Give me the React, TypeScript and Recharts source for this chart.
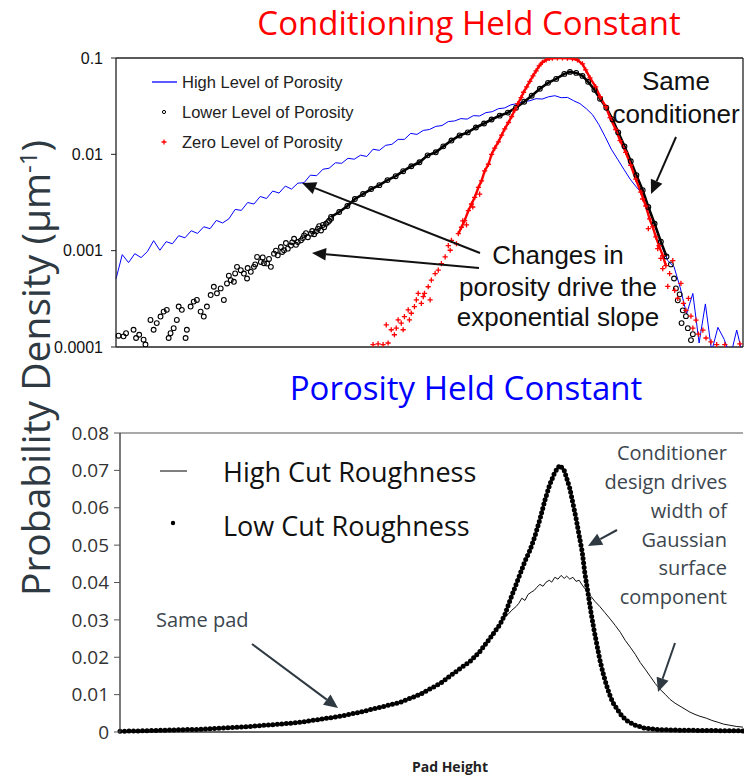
import React from 'react'
import { ComposedChart, Line, Scatter, XAxis, YAxis, ReferenceLine } from 'recharts'

// ---- top panel: conditioning held constant (log density vs pad height bin) ----

// blue trace, one value per height bin 0..100
const highPorosity = [
  0.00051, 0.00091, 0.000752, 0.000931, 0.000847, 0.000977, 0.00127, 0.00101, 0.00124, 0.00118,
  0.00143, 0.00136, 0.00161, 0.00151, 0.00177, 0.00169, 0.00206, 0.00194, 0.00214, 0.00268,
  0.00262, 0.00316, 0.00305, 0.00365, 0.00348, 0.00416, 0.00396, 0.00468, 0.00436, 0.00502,
  0.00508, 0.00608, 0.006, 0.007, 0.00718, 0.00817, 0.00807, 0.0091, 0.0089, 0.0098,
  0.0095, 0.0113, 0.011, 0.0124, 0.0127, 0.0143, 0.0143, 0.0165, 0.0161, 0.0177,
  0.0181, 0.0195, 0.0199, 0.0219, 0.0222, 0.0235, 0.0232, 0.0252, 0.025, 0.0271,
  0.0277, 0.0298, 0.0303, 0.0327, 0.0336, 0.0352, 0.036, 0.0378, 0.0375, 0.0396,
  0.0406, 0.0387, 0.039, 0.036, 0.0336, 0.0298, 0.0258, 0.0204, 0.0153, 0.0113,
  0.0089, 0.007, 0.00553, 0.00457, 0.00387, 0.00284, 0.00177, 0.00115, 0.00079, 0.00068,
  0.00041, 0.00022, 0.00036, 0.00011, 0.00028, 0.00009, 0.00016, 0.00012, 0.00008, 0.00015,
  0.00008,
]

// black open circles: scattered tails
const lowerPorositySpread: [number, number][] = [
  [0.4, 0.000131], [1.2, 0.000129], [1.6, 0.000139], [2.8, 0.000151], [3.2, 0.000124],
  [3.7, 0.000134], [4.4, 0.000119], [4.7, 0.000106], [5.5, 0.000191], [6.0, 0.000151],
  [6.5, 0.000177], [7.1, 0.000207], [7.6, 0.000233], [8.1, 0.000243], [8.4, 0.000124],
  [8.7, 0.000139], [9.2, 0.000157], [9.7, 0.000191], [10.0, 0.000263], [10.5, 0.000243],
  [11.1, 0.000124], [11.3, 0.000151], [11.9, 0.000263], [12.4, 0.000296], [12.9, 0.000308],
  [13.5, 0.000233], [14.0, 0.000207], [14.5, 0.000263], [15.1, 0.000346], [15.6, 0.000422],
  [16.1, 0.000361], [16.7, 0.000406], [17.2, 0.000308], [17.7, 0.000457], [18.0, 0.00055],
  [18.3, 0.000494], [18.8, 0.000475], [19.0, 0.00058], [19.3, 0.000679], [19.9, 0.000627],
  [20.4, 0.000579], [20.9, 0.000514], [21.0, 0.00066], [21.5, 0.000603], [22.0, 0.000679],
  [22.2, 0.00072], [22.5, 0.000861], [23.1, 0.000764], [23.4, 0.00085], [23.6, 0.00074],
  [24.1, 0.000735], [24.4, 0.00082], [24.7, 0.000679], [25.2, 0.000931], [25.5, 0.001],
  [25.8, 0.000895], [26.3, 0.00109], [26.5, 0.00097], [26.8, 0.00101], [27.1, 0.0012],
  [27.4, 0.00105], [27.9, 0.00113], [28.1, 0.00122], [28.4, 0.00133], [28.7, 0.00115],
  [29.0, 0.00123], [29.5, 0.00128], [29.8, 0.00135], [30.0, 0.00144], [30.3, 0.00152],
  [30.6, 0.00138], [31.1, 0.0015], [31.3, 0.0016], [31.6, 0.00148], [31.9, 0.00158],
  [32.2, 0.00169], [32.4, 0.0018], [32.7, 0.00162], [33.0, 0.00185], [33.2, 0.00175],
  [33.5, 0.0019], [33.8, 0.00198], [34.0, 0.00205], [34.3, 0.00214],
  [88.5, 0.00072], [89.0, 0.000514], [89.3, 0.000406], [89.6, 0.000305], [89.9, 0.000352],
  [90.2, 0.000177], [90.4, 0.00024], [90.9, 0.000209], [91.2, 0.000157], [91.7, 0.000118],
  [92.0, 0.000136],
]

// black open circles: dense band around the peak
const lowerPorosityBand: [number, number][] = [
  [34.3, 0.00224], [35.6, 0.00252], [36.9, 0.00291], [38.1, 0.00344], [39.4, 0.00387],
  [40.7, 0.00436], [42.0, 0.00479], [43.3, 0.0054], [44.6, 0.00593], [45.8, 0.00668],
  [47.1, 0.00752], [48.4, 0.00827], [49.7, 0.00976], [51.0, 0.0105], [52.2, 0.0121],
  [53.5, 0.0139], [54.8, 0.0157], [56.1, 0.0169], [57.4, 0.019], [58.7, 0.0209],
  [59.9, 0.023], [61.2, 0.0252], [62.5, 0.0271], [63.8, 0.0305], [65.1, 0.0352],
  [66.3, 0.0406], [67.6, 0.0479], [68.9, 0.0552], [70.2, 0.0607], [71.5, 0.0684],
  [72.4, 0.0717], [73.4, 0.07], [74.4, 0.0652], [75.3, 0.0566], [76.3, 0.0468],
  [77.2, 0.0378], [78.2, 0.0305], [79.2, 0.023], [80.1, 0.0169], [81.1, 0.0121],
  [82.1, 0.00847], [83.0, 0.00607], [84.0, 0.00425], [84.9, 0.00284], [85.9, 0.0019],
  [86.9, 0.00124], [87.8, 0.00087],
]

// red crosses: scattered tails
const zeroPorositySpread: [number, number][] = [
  [41.0, 0.000106], [41.8, 0.000108], [42.6, 0.000106], [43.4, 0.00011], [43.1, 0.00017],
  [43.9, 0.000151], [44.4, 0.000134], [44.7, 0.000157], [45.0, 0.000191], [45.5, 0.000177],
  [45.8, 0.000151], [46.0, 0.000207], [46.6, 0.000243], [46.8, 0.000191], [47.1, 0.000224],
  [47.6, 0.000263], [47.9, 0.000308], [48.2, 0.000361], [48.7, 0.000284], [49.0, 0.000333],
  [49.2, 0.000361], [49.8, 0.000422], [50.1, 0.000308], [50.3, 0.000494], [50.9, 0.000579],
  [51.4, 0.000627], [51.9, 0.000735], [52.5, 0.000861], [53.0, 0.00113], [53.3, 0.00101],
  [53.5, 0.00128], [54.3, 0.00118], [55.3, 0.00204], [55.9, 0.00185], [56.9, 0.00284],
  [58.0, 0.00387],
  [84.0, 0.00344], [84.9, 0.00169], [86.4, 0.00105], [86.9, 0.00083], [87.2, 0.00065],
  [88.0, 0.000426], [88.3, 0.000579], [88.8, 0.000789], [89.1, 0.000387], [89.6, 0.00032],
  [90.1, 0.000457], [90.5, 0.000284], [90.9, 0.00024], [91.3, 0.00032], [91.7, 0.000209],
  [92.0, 0.000157], [92.5, 0.00019], [92.9, 0.000136], [93.6, 0.00015], [94.1, 0.000124],
  [94.9, 0.000113], [95.8, 0.000106], [97.1, 0.000106], [99.5, 0.000108],
]

// red crosses: dense band around the peak
const zeroPorosityBand: [number, number][] = [
  [54.6, 0.0015], [55.1, 0.00175], [55.6, 0.00205], [56.2, 0.0026], [56.7, 0.00305],
  [57.2, 0.00357], [57.8, 0.00453], [58.3, 0.00531], [58.8, 0.00673], [59.4, 0.00789],
  [59.9, 0.01], [60.4, 0.0116], [61.0, 0.0135], [61.5, 0.0158], [62.0, 0.0184],
  [62.6, 0.0214], [63.1, 0.0247], [63.6, 0.0288], [64.1, 0.0336], [64.6, 0.0387],
  [65.0, 0.0441], [65.5, 0.0502], [66.0, 0.0573], [66.5, 0.0652], [67.0, 0.0735],
  [67.5, 0.0827], [68.0, 0.0899], [68.6, 0.0954], [69.1, 0.0988], [69.6, 0.0995],
  [70.4, 0.1], [71.2, 0.1], [72.0, 0.0995], [72.8, 0.0985], [73.6, 0.0954],
  [74.4, 0.0867], [74.9, 0.0752], [75.6, 0.0622], [76.5, 0.0502], [77.2, 0.0396],
  [78.1, 0.0313], [78.8, 0.0241], [79.7, 0.0181], [80.4, 0.0139], [81.3, 0.0105],
  [82.1, 0.0077], [82.9, 0.00553], [83.7, 0.00406], [84.5, 0.00291], [85.1, 0.00214],
  [85.6, 0.00177], [86.1, 0.00139], [86.6, 0.00113], [87.2, 0.00089], [87.7, 0.0007],
]

const logTicks = [0.0001, 0.001, 0.01, 0.1]

// ---- bottom panel: porosity held constant (linear density) ----

const highCutRoughness: [number, number][] = [
  [0, 0.0002], [6.4, 0.00045], [12.8, 0.0007], [19.3, 0.0013], [25.7, 0.002],
  [32.1, 0.0034], [38.5, 0.0053], [44.9, 0.0079], [51.4, 0.013], [56.2, 0.0189],
  [59.4, 0.0251], [61.0, 0.0288], [61.6, 0.0304], [62.3, 0.0315], [62.9, 0.0326],
  [63.6, 0.0336], [64.0, 0.0344], [64.5, 0.0358], [65.0, 0.0352], [65.5, 0.0368],
  [66.0, 0.0374], [66.5, 0.0379], [66.9, 0.0387], [67.4, 0.0395], [67.9, 0.039],
  [68.4, 0.0401], [68.9, 0.0406], [69.3, 0.0401], [69.8, 0.0414], [70.3, 0.0409],
  [70.8, 0.0419], [71.3, 0.0411], [71.7, 0.0417], [72.2, 0.0409], [72.7, 0.0414],
  [73.2, 0.0403], [73.7, 0.0406], [74.2, 0.0393], [74.6, 0.0384], [75.1, 0.0374],
  [75.6, 0.0363], [76.2, 0.035], [77.0, 0.0336], [77.8, 0.032], [78.7, 0.0302],
  [79.5, 0.0285], [80.3, 0.0267], [81.1, 0.0245], [81.9, 0.0227], [82.7, 0.0208],
  [83.5, 0.0186], [84.3, 0.0168], [85.1, 0.0149], [85.9, 0.013], [86.7, 0.0114],
  [87.5, 0.0101], [88.3, 0.0087], [89.1, 0.0077], [89.9, 0.0069], [90.7, 0.0061],
  [91.5, 0.0053], [92.3, 0.0047], [93.1, 0.0042], [94.1, 0.0037], [95.0, 0.0031],
  [96.0, 0.0026], [96.9, 0.0021], [97.9, 0.0018], [98.9, 0.0015], [100, 0.0013],
]

const lowCutRoughness: [number, number][] = [
  [0, 0.0002], [3.2, 0.0003], [6.4, 0.00045], [9.6, 0.0006], [12.8, 0.0007],
  [16.1, 0.001], [19.3, 0.0013], [22.5, 0.0017], [25.7, 0.0021], [28.9, 0.0026],
  [32.1, 0.0034], [35.3, 0.0042], [38.5, 0.0053], [41.7, 0.0066], [44.9, 0.0079],
  [48.2, 0.0101], [51.4, 0.013], [54.6, 0.017], [56.2, 0.0189], [57.8, 0.0216],
  [59.4, 0.0251], [61.0, 0.0288], [61.8, 0.0315], [62.6, 0.0352], [63.4, 0.0387],
  [64.2, 0.0422], [65.0, 0.0457], [65.8, 0.0486], [66.6, 0.0524], [67.4, 0.0569],
  [68.2, 0.062], [69.0, 0.0663], [69.8, 0.0695], [70.6, 0.0714], [71.3, 0.07],
  [71.7, 0.0679], [72.2, 0.0652], [72.7, 0.0612], [73.2, 0.0572], [73.7, 0.0526],
  [74.2, 0.0481], [74.6, 0.0427], [75.1, 0.0374], [75.6, 0.032], [76.1, 0.0272],
  [76.6, 0.0229], [77.0, 0.0195], [77.5, 0.016], [78.0, 0.013], [78.5, 0.0104],
  [79.1, 0.0079], [79.8, 0.0061], [80.6, 0.0042], [81.5, 0.0029], [82.7, 0.0018],
  [84.3, 0.001], [86.7, 0.0006], [91.5, 0.00045], [100, 0.0003],
]

const linearTicks = [0, 0.01, 0.02, 0.03, 0.04, 0.05, 0.06, 0.07, 0.08]

const toPoints = (rows: [number, number][]) => rows.map(([x, v]) => ({ x, v }))
const bluePoints = highPorosity.map((v, x) => ({ x, v }))

const SANS = '"Open Sans", sans-serif'
const ARIAL = '"Liberation Sans", Arial, sans-serif'

const openCircle = (p: any) => (
  <circle key={`c${p.index}`} cx={p.cx} cy={p.cy} r={2.4} fill="none" stroke="#000" strokeWidth={1.1} />
)

const redCross = (p: any) => (
  <path
    key={`p${p.index}`}
    d={`M${p.cx - 2.6},${p.cy}h5.2M${p.cx},${p.cy - 2.6}v5.2`}
    stroke="#ff0000"
    strokeWidth={1.3}
  />
)

function Arrow({ x1, y1, x2, y2, color, head = 14, width = 2 }: any) {
  const a = Math.atan2(y2 - y1, x2 - x1)
  const bx = x2 - head * Math.cos(a)
  const by = y2 - head * Math.sin(a)
  const hw = head * 0.45
  const pts = [
    `${x2},${y2}`,
    `${bx + hw * Math.sin(a)},${by - hw * Math.cos(a)}`,
    `${bx - hw * Math.sin(a)},${by + hw * Math.cos(a)}`,
  ].join(' ')
  return (
    <g>
      <line x1={x1} y1={y1} x2={bx} y2={by} stroke={color} strokeWidth={width} />
      <polygon points={pts} fill={color} />
    </g>
  )
}

function TopPanel() {
  return (
    <ComposedChart width={744} height={380} margin={{ top: 58, right: 1, bottom: 33, left: 0 }}>
      <XAxis type="number" dataKey="x" domain={[0, 100]} hide />
      <YAxis
        type="number"
        scale="log"
        domain={[0.0001, 0.1]}
        allowDataOverflow
        ticks={logTicks}
        interval={0}
        tickFormatter={(t) => String(t)}
        width={116}
        tickSize={5}
        tickMargin={8}
        axisLine={{ stroke: '#222', strokeWidth: 1.3 }}
        tickLine={{ stroke: '#222' }}
        tick={{ fontSize: 16, fill: '#111', fontFamily: ARIAL }}
      />
      <ReferenceLine y={0.1} stroke="#222" strokeWidth={1.3} />
      <ReferenceLine y={0.0001} stroke="#222" strokeWidth={1.3} />
      <ReferenceLine x={100} stroke="#222" strokeWidth={1.3} />
      <Line data={bluePoints} dataKey="v" type="linear" stroke="#0000ff" strokeWidth={1} dot={false} isAnimationActive={false} />
      <Scatter data={toPoints(lowerPorositySpread)} dataKey="v" shape={openCircle} isAnimationActive={false} />
      <Line data={toPoints(lowerPorosityBand)} dataKey="v" type="linear" stroke="#000" strokeWidth={2.6} dot={openCircle} isAnimationActive={false} />
      <Scatter data={toPoints(zeroPorositySpread)} dataKey="v" shape={redCross} isAnimationActive={false} />
      <Line data={toPoints(zeroPorosityBand)} dataKey="v" type="linear" stroke="#ff0000" strokeWidth={2.4} dot={redCross} isAnimationActive={false} />
    </ComposedChart>
  )
}

function BottomPanel() {
  return (
    <ComposedChart width={744} height={384} margin={{ top: 33, right: 1, bottom: 52, left: 0 }}>
      <XAxis type="number" dataKey="x" domain={[0, 100]} hide />
      <YAxis
        type="number"
        domain={[0, 0.08]}
        ticks={linearTicks}
        interval={0}
        tickFormatter={(t) => (t === 0 ? '0' : t.toFixed(2))}
        width={120}
        tickSize={6}
        tickMargin={5}
        axisLine={{ stroke: '#333', strokeWidth: 1.3 }}
        tickLine={{ stroke: '#555' }}
        tick={{ fontSize: 19, fill: '#333', fontFamily: SANS }}
      />
      <ReferenceLine y={0.08} stroke="#555" strokeWidth={1.2} />
      <ReferenceLine y={0} stroke="#333" strokeWidth={1.5} />
      <Line data={toPoints(highCutRoughness)} dataKey="v" type="linear" stroke="#111" strokeWidth={1} dot={false} isAnimationActive={false} />
      <Line
        data={toPoints(lowCutRoughness)}
        dataKey="v"
        type="linear"
        stroke="#000"
        strokeWidth={5}
        strokeDasharray="0 4.5"
        strokeLinecap="round"
        dot={false}
        isAnimationActive={false}
      />
    </ComposedChart>
  )
}

function Annotations() {
  const slate = '#2e3942'
  return (
    <svg width={744} height={784} style={{ position: 'absolute', left: 0, top: 0, pointerEvents: 'none' }}>
      <text x={469} y={35} textAnchor="middle" fontFamily={SANS} fontSize={33} fill="#ff0000">
        Conditioning Held Constant
      </text>
      <text x={466} y={400} textAnchor="middle" fontFamily={SANS} fontSize={33} fill="#0000ff">
        Porosity Held Constant
      </text>

      <text x={50} y={368} transform="rotate(-90, 50, 368)" textAnchor="middle" fontFamily={SANS} fontSize={39} fill={slate}>
        <tspan>Probability Density (μm</tspan>
        <tspan dy={-13} fontSize={24}>-1</tspan>
        <tspan dy={13}>)</tspan>
      </text>

      {/* top legend */}
      <line x1={152} y1={82} x2={177} y2={82} stroke="#0000ff" strokeWidth={1.3} />
      <circle cx={164} cy={112} r={1.6} fill="none" stroke="#000" strokeWidth={1} />
      <path d="M161.5,142h5M164,139.5v5" stroke="#ff0000" strokeWidth={1.3} />
      <g fontFamily={ARIAL} fontSize={16.5} fill="#222">
        <text x={182} y={88}>High Level of Porosity</text>
        <text x={182} y={118}>Lower Level of Porosity</text>
        <text x={182} y={148}>Zero Level of Porosity</text>
      </g>

      {/* top notes */}
      <g fontFamily={ARIAL} fontSize={26} fill="#111" textAnchor="middle">
        <text x={676} y={90}>Same</text>
        <text x={676} y={123}>conditioner</text>
        <text x={558} y={264}>Changes in</text>
        <text x={558} y={296}>porosity drive the</text>
        <text x={558} y={326}>exponential slope</text>
      </g>
      <Arrow x1={676} y1={137} x2={651} y2={194} color="#111" />
      <Arrow x1={480} y1={253} x2={302} y2={183} color="#111" />
      <Arrow x1={479} y1={268} x2={312} y2={253} color="#111" />

      {/* bottom legend */}
      <line x1={160} y1={471} x2={187} y2={471} stroke="#000" strokeWidth={1} />
      <circle cx={173} cy={523} r={2.2} fill="#000" />
      <g fontFamily={SANS} fontSize={27} fill="#111">
        <text x={223} y={482}>High Cut Roughness</text>
        <text x={223} y={536}>Low Cut Roughness</text>
      </g>

      {/* bottom notes */}
      <text x={156} y={627} fontFamily={SANS} fontSize={20} fill="#3c464e">Same pad</text>
      <g fontFamily={SANS} fontSize={20} fill="#3c464e" textAnchor="end">
        <text x={727} y={460}>Conditioner</text>
        <text x={727} y={489}>design drives</text>
        <text x={727} y={518}>width of</text>
        <text x={727} y={547}>Gaussian</text>
        <text x={727} y={575}>surface</text>
        <text x={727} y={604}>component</text>
      </g>
      <Arrow x1={252} y1={644} x2={338} y2={708} color={slate} />
      <Arrow x1={617} y1={530} x2={588} y2={546} color={slate} />
      <Arrow x1={675} y1={643} x2={658} y2={692} color={slate} />

      <text x={450} y={772} textAnchor="middle" fontFamily={SANS} fontWeight={700} fontSize={14} fill="#222">
        Pad Height
      </text>
    </svg>
  )
}

export default function App() {
  return (
    <div style={{ position: 'absolute', left: 0, top: 0, width: 744, height: 784, background: '#fff' }}>
      <div style={{ position: 'absolute', left: 0, top: 0 }}>
        <TopPanel />
      </div>
      <div style={{ position: 'absolute', left: 0, top: 400 }}>
        <BottomPanel />
      </div>
      <Annotations />
    </div>
  )
}
